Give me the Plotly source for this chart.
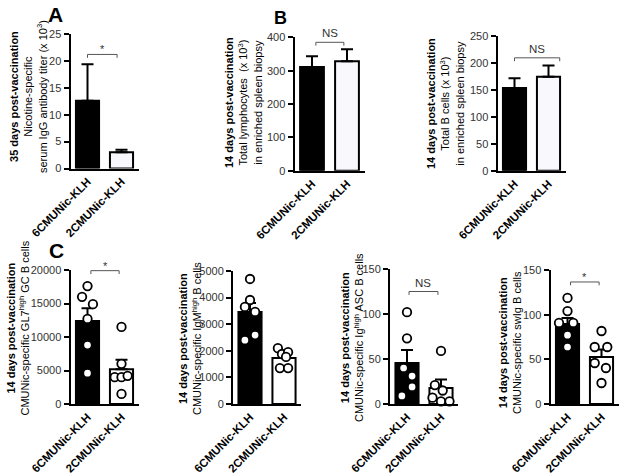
import plotly.graph_objects as go

W, H = 625, 475

groups = ["6CMUNic-KLH", "2CMUNic-KLH"]

# Panel A
a_mean = [12.6, 3.0]
a_sem = [6.8, 0.5]
# Panel B
b1_mean = [311, 328]
b1_sem = [32, 36]
b2_mean = [153, 174]
b2_sem = [18, 21]
# Panel C
c1_mean = [12400, 5200]
c1_sem = [1900, 1400]
c1_6c = [17600, 16000, 14900, 12700, 8800, 4600]
c1_2c = [11500, 6000, 4000, 4000, 4200, 1500]
c2_mean = [3460, 1730]
c2_sem = [340, 120]
c2_6c = [4700, 3910, 3650, 3460, 2590, 2400]
c2_2c = [2100, 1880, 1950, 1770, 1350, 1350]
c3_mean = [45.6, 17.8]
c3_sem = [14.5, 9.5]
c3_6c = [102, 73, 40, 31, 19, 9]
c3_2c = [59, 21, 15, 7, 3, 3]
c4_mean = [89.6, 52.6]
c4_sem = [6.6, 8.5]
c4_6c = [118.7, 104, 90.7, 90.7, 77, 63.8]
c4_2c = [81.7, 63.8, 63.8, 45.9, 40.3, 23.5]

sig_labels = ["*", "NS", "NS", "*", "***", "NS", "*"]

titles = [
    "<b>35 days post-vaccination</b><br>Nicotine-specific<br>serum IgG antibody titer (x 10<sup>3</sup>)",
    "<b>14 days post-vaccination</b><br>Total lymphocytes  (x 10<sup>3</sup>)<br>in enriched spleen biopsy",
    "<b>14 days post-vaccination</b><br>Total B cells (x 10<sup>3</sup>)<br>in enriched spleen biopsy",
    "<b>14 days post-vaccination</b><br>CMUNic-specific GL7<sup>high</sup> GC B cells",
    "<b>14 days post-vaccination</b><br>CMUNic-specific IgM<sup>high</sup> B cells",
    "<b>14 days post-vaccination</b><br>CMUNic-specific Ig<sup>high</sup> ASC B cells",
    "<b>14 days post-vaccination</b><br>CMUNic-specific swIg B cells",
]


def px_x(px):
    return px / W


def px_y(py):
    return 1 - py / H


# ---- layout (pixel geometry in the 625x475 window) ----
panels = [
    dict(mean=a_mean, sem=a_sem, pts=None, ymax=25, dtick=5,
         box=(70.5, 138.5, 34, 168.5), white="#f8f8fd",
         br=(0.0, 0.87, 21.2), title_xy=(28, 97)),
    dict(mean=b1_mean, sem=b1_sem, pts=None, ymax=400, dtick=100,
         box=(294.5, 364.5, 37.3, 170.7), white="#f8f8fd",
         br=(0.11, 0.91, 385), title_xy=(243, 103)),
    dict(mean=b2_mean, sem=b2_sem, pts=None, ymax=250, dtick=50,
         box=(497.5, 565.5, 35.7, 170.7), white="#f8f8fd",
         br=(0.0, 1.33, 209), title_xy=(445, 104)),
    dict(mean=c1_mean, sem=c1_sem, pts=(c1_6c, c1_2c), ymax=20000, dtick=5000,
         box=(70.5, 138.5, 270, 404), white="#ffffff",
         br=(0.1, 0.93, 19900), title_xy=(17.5, 328),
         jit=([0, -0.16, 0.16, 0, 0, 0], [0, 0, -0.2, 0, 0.18, 0])),
    dict(mean=c2_mean, sem=c2_sem, pts=(c2_6c, c2_2c), ymax=5000, dtick=1000,
         box=(233, 301, 271, 404), white="#ffffff",
         br=(0.0, 0.85, 5190), title_xy=(190, 339),
         jit=([0, 0, -0.15, 0.15, 0.15, -0.15], [-0.18, -0.06, 0.12, 0.06, -0.12, 0.12])),
    dict(mean=c3_mean, sem=c3_sem, pts=(c3_6c, c3_2c), ymax=150, dtick=50,
         box=(390, 458, 269, 404), white="#ffffff",
         br=(0.06, 0.91, 125), title_xy=(352, 338),
         jit=([0, 0, -0.1, 0.15, 0.15, -0.15], [0.0, -0.18, 0.05, -0.25, 0.0, 0.25])),
    dict(mean=c4_mean, sem=c4_sem, pts=(c4_6c, c4_2c), ymax=150, dtick=50,
         box=(550.5, 618.5, 270, 404), white="#ffffff",
         br=(0.09, 0.93, 136.6), title_xy=(510, 342),
         jit=([0, 0, -0.25, 0.17, 0, 0], [0, -0.2, 0.17, -0.2, 0.13, 0])),
]

fig = go.Figure()
annotations = []
shapes = []
layout = {}

for i, p in enumerate(panels):
    n = i + 1
    xa = "x" if n == 1 else f"x{n}"
    ya = "y" if n == 1 else f"y{n}"
    xl, xr, yt, yb = p["box"]
    fig.add_trace(go.Bar(
        x=[0, 1], y=p["mean"], xaxis=xa, yaxis=ya, width=0.68,
        marker=dict(color=["#000000", p["white"]], line=dict(color="#000000", width=2)),
        error_y=dict(type="data", symmetric=False, array=p["sem"], arrayminus=[0, 0],
                     color="#000000", thickness=2, width=6),
        showlegend=False, hoverinfo="skip",
    ))
    if p["pts"] is not None:
        for g in range(2):
            vals = p["pts"][g]
            xs = [g + d for d in p["jit"][g]]
            fig.add_trace(go.Scatter(
                x=xs, y=vals, xaxis=xa, yaxis=ya, mode="markers", cliponaxis=False,
                marker=dict(size=8.5, color="#ffffff", line=dict(color="#000000", width=1.8)),
                showlegend=False, hoverinfo="skip",
            ))
    layout["xaxis" if n == 1 else f"xaxis{n}"] = dict(
        domain=[px_x(xl), px_x(xr)], anchor=ya, range=[-0.5, 1.5], automargin=False,
        tickvals=[0, 1], ticktext=groups, tickangle=-45, ticks="",
        showline=True, linecolor="#000000", linewidth=2, showgrid=False, zeroline=False,
        tickfont=dict(family="Liberation Sans, Arial", size=11.5, color="#000000", weight="bold"),
        fixedrange=True,
    )
    layout["yaxis" if n == 1 else f"yaxis{n}"] = dict(
        domain=[px_y(yb), px_y(yt)], anchor=xa, range=[0, p["ymax"]], dtick=p["dtick"],
        automargin=False,
        tickformat="d", ticks="outside", ticklen=5, tickwidth=2, tickcolor="#000000",
        showline=True, linecolor="#000000", linewidth=2, showgrid=False, zeroline=False,
        tickfont=dict(family="Liberation Sans, Arial", size=11, color="#333333"),
        fixedrange=True,
    )
    # significance bracket
    bx0, bx1, by = p["br"]
    tick = p["ymax"] * 0.025
    shapes.append(dict(type="path", xref=xa, yref=ya,
                       path=f"M {bx0},{by - tick} L {bx0},{by} L {bx1},{by} L {bx1},{by - tick}",
                       line=dict(color="#555555", width=1)))
    lab = sig_labels[i]
    annotations.append(dict(x=(bx0 + bx1) / 2, y=by, xref=xa, yref=ya, text=lab,
                            showarrow=False, yanchor="bottom",
                            yshift=(-3 if lab.startswith("*") else 1),
                            font=dict(family="Liberation Sans, Arial",
                                      size=(11 if lab.startswith("*") else 11.5),
                                      color="#333333")))
    # y title
    tx, ty = p["title_xy"]
    annotations.append(dict(x=px_x(tx), y=px_y(ty), xref="paper", yref="paper",
                            text=titles[i], textangle=-90, showarrow=False,
                            xanchor="center", yanchor="middle", align="center",
                            font=dict(family="Liberation Sans, Arial", size=11, color="#000000")))

# panel letters
for letter, lx, ly, sz in [("A", 55, 15, 21), ("B", 280, 18, 18), ("C", 56, 251, 21)]:
    annotations.append(dict(x=px_x(lx), y=px_y(ly), xref="paper", yref="paper",
                            text=f"<b>{letter}</b>", showarrow=False,
                            xanchor="center", yanchor="middle",
                            font=dict(family="Liberation Sans, Arial", size=sz, color="#000000")))

fig.update_layout(
    width=W, height=H, autosize=False,
    margin=dict(l=0, r=0, t=0, b=0, pad=0, autoexpand=False),
    paper_bgcolor="#ffffff", plot_bgcolor="rgba(0,0,0,0)",
    barmode="overlay",
    annotations=annotations, shapes=shapes,
    **layout,
)

# remove the default 8px page margin so the figure sits exactly in the window
fig.write_html("out.html", config={"displayModeBar": False, "staticPlot": True},
               post_script="document.body.style.margin='0';document.body.style.overflow='hidden';")
